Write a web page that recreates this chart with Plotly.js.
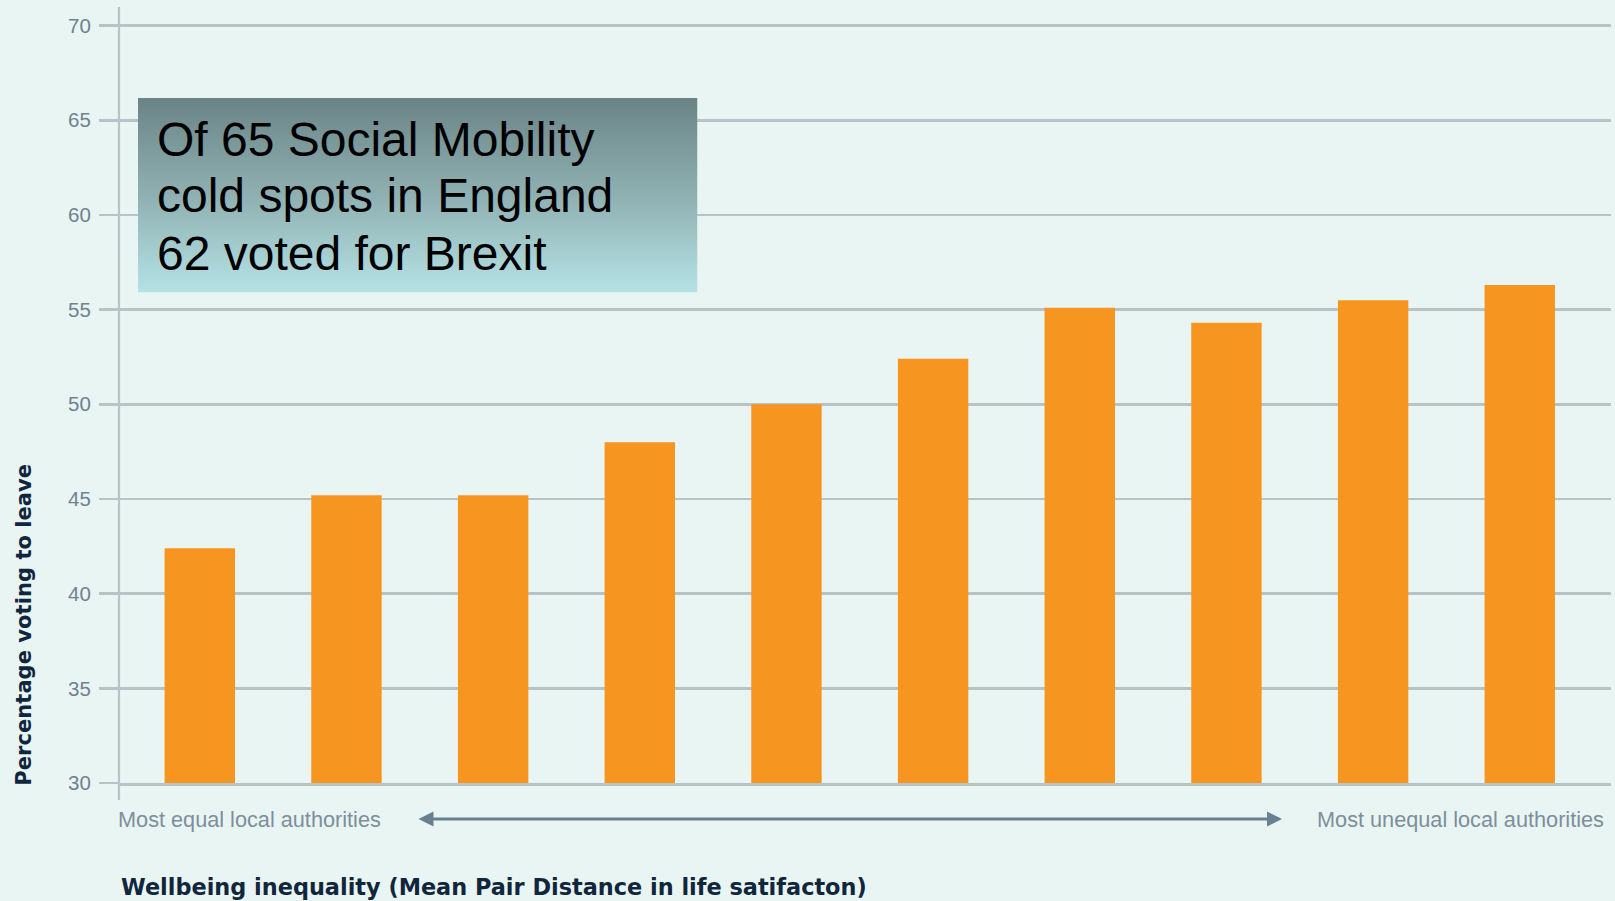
<!DOCTYPE html>
<html>
<head>
<meta charset="utf-8">
<script src="https://cdn.plot.ly/plotly-3.0.1.min.js"></script>
<style>
  html, body { margin: 0; padding: 0; background: #e9f5f2; }
  #chart { width: 1615px; height: 901px; }
</style>
</head>
<body>
<div id="chart"></div>
<script>
// ---- data ----
const categories = ['Decile 1', 'Decile 2', 'Decile 3', 'Decile 4', 'Decile 5',
                    'Decile 6', 'Decile 7', 'Decile 8', 'Decile 9', 'Decile 10'];
const leaveShare = [42.4, 45.2, 45.2, 48.0, 50.0, 52.4, 55.1, 54.3, 55.5, 56.3];
const yTickValues = [30, 35, 40, 45, 50, 55, 60, 65, 70];
const yTitle = 'Percentage voting to leave';
const xTitle = 'Wellbeing inequality (Mean Pair Distance in life satifacton)';
const leftLabel = 'Most equal local authorities';
const rightLabel = 'Most unequal local authorities';
const boxLines = ['Of 65 Social Mobility', 'cold spots in England', '62 voted for Brexit'];

// ---- styling ----
const BG = '#e9f5f2';
const GRID = '#b8c2c7';
const BAR = '#f79521';
const TICK = '#6f8293';
const FONT = '"Liberation Sans", Arial, sans-serif';
const BOLDFONT = '"DejaVu Sans", "Liberation Sans", Arial, sans-serif';

const gradSvg = "<svg xmlns='http://www.w3.org/2000/svg' width='100' height='100' preserveAspectRatio='none'>" +
  "<defs><linearGradient id='g' x1='0' y1='0' x2='0' y2='1'>" +
  "<stop offset='0' stop-color='#6a8486'/><stop offset='0.5' stop-color='#8fb0b2'/><stop offset='1' stop-color='#b5e2e5'/>" +
  "</linearGradient></defs><rect width='100' height='100' fill='url(#g)'/></svg>";
const gradUri = 'data:image/svg+xml;charset=utf-8,' + encodeURIComponent(gradSvg);

const trace = {
  type: 'bar',
  x: categories,
  y: leaveShare,
  marker: { color: BAR, line: { width: 0 } },
  width: 0.48,
  hoverinfo: 'x+y'
};

// plot area: left 119, right 1611, top 18, bottom 783
const lineAnnotations = boxLines.map((t, i) => ({
  xref: 'paper', yref: 'paper',
  x: (155 - 119) / 1492,
  y: (783 - (139 + i * 57)) / 765,
  xanchor: 'left', yanchor: 'middle',
  text: t, showarrow: false,
  font: { family: FONT, size: 48, color: '#000000' }
}));

const layout = {
  width: 1615, height: 901,
  paper_bgcolor: BG, plot_bgcolor: BG,
  margin: { l: 119, r: 4, t: 18, b: 118 },
  showlegend: false,
  bargap: 0.52,
  xaxis: {
    type: 'category',
    range: [-0.551, 9.622],
    showticklabels: false,
    ticks: '',
    showgrid: false,
    zeroline: false,
    showline: true, linecolor: GRID, linewidth: 2.5,
    fixedrange: true
  },
  yaxis: {
    range: [30, 70.4],
    tickvals: yTickValues,
    ticktext: yTickValues.map(String),
    showgrid: true, gridcolor: GRID, gridwidth: 2.5,
    zeroline: false,
    showline: false,
    ticks: 'outside', ticklen: 19, tickwidth: 2.5, tickcolor: GRID,
    ticklabelstandoff: 4,
    tickfont: { family: FONT, size: 20.5, color: TICK },
    fixedrange: true
  },
  images: [{
    source: gradUri,
    xref: 'paper', yref: 'paper',
    x: (138 - 119) / 1492, y: (783 - 98) / 765,
    sizex: (697.5 - 138) / 1492, sizey: (292.5 - 98) / 765,
    xanchor: 'left', yanchor: 'top',
    sizing: 'stretch', layer: 'above'
  }],
  shapes: [{
    type: 'line', xref: 'paper', yref: 'paper',
    x0: 0, x1: 0, y0: (783 - 800) / 765, y1: (783 - 7) / 765,
    line: { color: GRID, width: 2.2 }
  }],
  annotations: [
    ...lineAnnotations,
    {
      xref: 'paper', yref: 'paper',
      x: (22.7 - 119) / 1492, y: (783 - 625) / 765,
      xanchor: 'center', yanchor: 'middle',
      text: '<b>' + yTitle + '</b>', textangle: -90, showarrow: false,
      font: { family: BOLDFONT, size: 21.1, color: '#10263d' }
    },
    {
      xref: 'paper', yref: 'paper',
      x: 0, y: (783 - 887) / 765,
      xanchor: 'left', yanchor: 'middle',
      text: '<b>' + xTitle + '</b>', showarrow: false,
      font: { family: BOLDFONT, size: 22.4, color: '#10263d' }
    },
    {
      xref: 'paper', yref: 'paper',
      x: (249 - 119) / 1492, y: (783 - 819) / 765,
      xanchor: 'center', yanchor: 'middle',
      text: leftLabel, showarrow: false,
      font: { family: FONT, size: 21.7, color: '#7d8e9d' }
    },
    {
      xref: 'paper', yref: 'paper',
      x: (1460 - 119) / 1492, y: (783 - 819) / 765,
      xanchor: 'center', yanchor: 'middle',
      text: rightLabel, showarrow: false,
      font: { family: FONT, size: 21.7, color: '#7d8e9d' }
    },
    {
      xref: 'paper', yref: 'paper',
      x: (1282 - 119) / 1492, y: (783 - 819) / 765,
      ax: -865, ay: 0, axref: 'pixel', ayref: 'pixel',
      text: '', showarrow: true,
      arrowhead: 2, startarrowhead: 2, arrowside: 'end+start',
      arrowsize: 1, startarrowsize: 1, arrowwidth: 3,
      arrowcolor: '#688190', standoff: 0, startstandoff: 0
    }
  ]
};

Plotly.newPlot('chart', [trace], layout, { displayModeBar: false, staticPlot: true });
</script>
</body>
</html>
